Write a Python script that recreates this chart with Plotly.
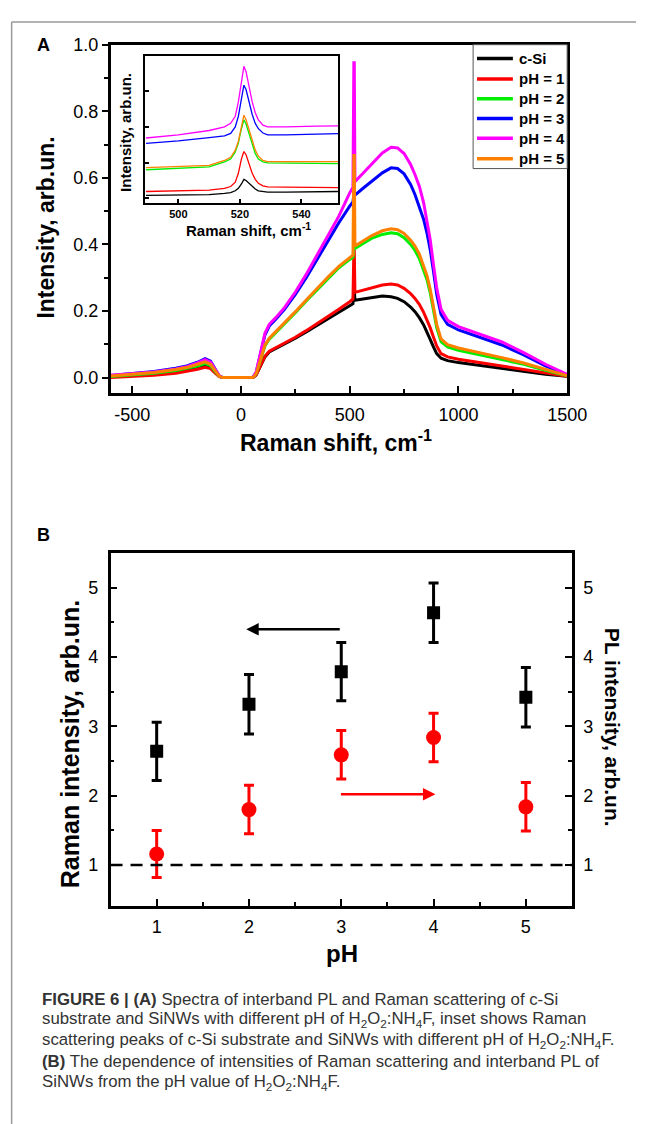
import plotly.graph_objects as go

W, H = 656, 1124
def X(px): return px / W
def Y(py): return 1 - py / H

FONT = "Liberation Sans, Arial, Helvetica, sans-serif"

# ---------------- Panel A: main spectra ----------------
shift = [-600, -500, -400, -300, -250, -200, -165, -140, -120, -100, -85,
         0, 55, 70, 90, 110, 130, 160,
         200, 250, 300, 350, 400, 450, 500,
         515, 519, 521, 524,
         560, 600, 650, 690, 720, 750, 780, 800, 820, 840, 855, 870, 885, 900, 920, 950,
         1000, 1100, 1200, 1300, 1400, 1500]

int_cSi = [0.003, 0.007, 0.012, 0.019, 0.024, 0.031, 0.036, 0.031, 0.017, 0.004, 0.0,
           0.0, 0.0, 0.008, 0.035, 0.062, 0.077, 0.087,
           0.100, 0.118, 0.137, 0.156, 0.176, 0.196, 0.216,
           0.222, 0.262, 0.262, 0.232,
           0.236, 0.241, 0.245, 0.243, 0.238, 0.228, 0.212, 0.198, 0.180, 0.158, 0.138, 0.115, 0.092, 0.072, 0.058, 0.051,
           0.045, 0.036, 0.027, 0.018, 0.010, 0.004]
int_pH1 = [0.000, 0.003, 0.007, 0.013, 0.018, 0.025, 0.031, 0.027, 0.014, 0.003, 0.0,
           0.0, 0.0, 0.008, 0.036, 0.064, 0.079, 0.089,
           0.103, 0.121, 0.141, 0.162, 0.183, 0.205, 0.228,
           0.236, 0.380, 0.380, 0.256,
           0.262, 0.270, 0.278, 0.281, 0.278, 0.268, 0.252, 0.238, 0.220, 0.196, 0.175, 0.150, 0.122, 0.095, 0.072, 0.062,
           0.055, 0.045, 0.035, 0.024, 0.013, 0.004]
int_pH2 = [0.003, 0.007, 0.013, 0.021, 0.027, 0.035, 0.042, 0.036, 0.019, 0.004, 0.0,
           0.0, 0.0, 0.012, 0.055, 0.095, 0.115, 0.135,
           0.160, 0.195, 0.230, 0.264, 0.298, 0.330, 0.355,
           0.362, 0.390, 0.390, 0.388,
           0.402, 0.418, 0.430, 0.435, 0.432, 0.420, 0.400, 0.382, 0.358, 0.325, 0.295, 0.255, 0.205, 0.150, 0.108, 0.092,
           0.082, 0.068, 0.055, 0.040, 0.022, 0.005]
int_pH3 = [0.006, 0.011, 0.018, 0.028, 0.035, 0.046, 0.057, 0.049, 0.026, 0.005, 0.0,
           0.0, 0.0, 0.016, 0.075, 0.128, 0.155, 0.175,
           0.205, 0.250, 0.300, 0.355, 0.410, 0.465, 0.515,
           0.528, 0.550, 0.550, 0.548,
           0.568, 0.590, 0.615, 0.630, 0.628, 0.612, 0.580, 0.550, 0.515, 0.475, 0.435, 0.385, 0.320, 0.250, 0.190, 0.160,
           0.143, 0.120, 0.098, 0.068, 0.035, 0.008]
int_pH4 = [0.007, 0.011, 0.017, 0.026, 0.033, 0.044, 0.054, 0.046, 0.024, 0.005, 0.0,
           0.0, 0.0, 0.017, 0.080, 0.133, 0.160, 0.180,
           0.210, 0.257, 0.310, 0.367, 0.425, 0.485, 0.555,
           0.572, 0.946, 0.946, 0.588,
           0.612, 0.640, 0.675, 0.692, 0.690, 0.673, 0.640, 0.610, 0.575, 0.525, 0.475, 0.415, 0.340, 0.270, 0.205, 0.172,
           0.153, 0.130, 0.107, 0.075, 0.040, 0.010]
int_pH5 = [0.005, 0.009, 0.015, 0.024, 0.030, 0.040, 0.047, 0.040, 0.021, 0.004, 0.0,
           0.0, 0.0, 0.012, 0.057, 0.098, 0.118, 0.138,
           0.163, 0.198, 0.233, 0.268, 0.302, 0.334, 0.360,
           0.368, 0.667, 0.667, 0.395,
           0.410, 0.426, 0.441, 0.447, 0.444, 0.433, 0.413, 0.395, 0.371, 0.338, 0.307, 0.266, 0.215, 0.160, 0.116, 0.099,
           0.089, 0.075, 0.060, 0.044, 0.025, 0.006]

series_names = ["c-Si", "pH = 1", "pH = 2", "pH = 3", "pH = 4", "pH = 5"]
series_colors = ["#000000", "#ff0000", "#00ee00", "#0000ff", "#ff00ff", "#ff8000"]
main_values = [int_cSi, int_pH1, int_pH2, int_pH3, int_pH4, int_pH5]

x_ticks_A = [-500, 0, 500, 1000, 1500]
x_ticklabels_A = ["-500", "0", "500", "1000", "1500"]
y_ticks_A = [0, 0.2, 0.4, 0.6, 0.8, 1.0]
y_ticklabels_A = ["0.0", "0.2", "0.4", "0.6", "0.8", "1.0"]

# ---------------- Panel A inset ----------------
inset_shift = [489.5, 500, 510, 515, 517, 518.5, 519.5, 520.5, 521.3, 522, 523, 524, 525, 526,
               527.5, 529, 535, 540, 545, 552]
ins_cSi = [0.558, 0.559, 0.560, 0.564, 0.566, 0.571, 0.578, 0.590, 0.603, 0.600, 0.592, 0.583, 0.576, 0.571,
           0.568, 0.567, 0.567, 0.567, 0.568, 0.569]
ins_pH1 = [0.569, 0.571, 0.573, 0.578, 0.583, 0.595, 0.620, 0.660, 0.681, 0.672, 0.645, 0.620, 0.603, 0.592,
           0.585, 0.582, 0.581, 0.581, 0.580, 0.580]
ins_pH2 = [0.630, 0.634, 0.638, 0.652, 0.660, 0.680, 0.705, 0.745, 0.770, 0.758, 0.730, 0.700, 0.675, 0.660,
           0.652, 0.649, 0.648, 0.648, 0.647, 0.647]
ins_pH3 = [0.704, 0.711, 0.720, 0.725, 0.732, 0.750, 0.780, 0.830, 0.867, 0.855, 0.820, 0.785, 0.760, 0.745,
           0.733, 0.728, 0.728, 0.728, 0.730, 0.731]
ins_pH4 = [0.719, 0.728, 0.740, 0.750, 0.760, 0.780, 0.820, 0.880, 0.920, 0.905, 0.860, 0.820, 0.790, 0.770,
           0.755, 0.750, 0.750, 0.750, 0.752, 0.753]
ins_pH5 = [0.636, 0.639, 0.642, 0.656, 0.665, 0.685, 0.710, 0.750, 0.783, 0.770, 0.740, 0.710, 0.685, 0.668,
           0.656, 0.653, 0.653, 0.653, 0.653, 0.653]
inset_values = [ins_cSi, ins_pH1, ins_pH2, ins_pH3, ins_pH4, ins_pH5]

# ---------------- Panel B ----------------
pH = [1, 2, 3, 4, 5]
raman_int = [2.64, 3.32, 3.79, 4.64, 3.42]
raman_err = [0.42, 0.43, 0.42, 0.43, 0.43]
pl_int = [1.16, 1.80, 2.59, 2.84, 1.84]
pl_err = [0.34, 0.35, 0.35, 0.35, 0.35]

fig = go.Figure()

for name, col, vals in zip(series_names, series_colors, main_values):
    fig.add_trace(go.Scatter(x=shift, y=vals, mode="lines", name=name, showlegend=False,
                             line=dict(color=col, width=3), xaxis="x", yaxis="y"))

for col, vals in zip(series_colors, inset_values):
    fig.add_trace(go.Scatter(x=inset_shift, y=vals, mode="lines", showlegend=False,
                             line=dict(color=col, width=1.3), xaxis="x2", yaxis="y2"))

fig.add_trace(go.Scatter(x=pH, y=raman_int, mode="markers", showlegend=False,
                         marker=dict(symbol="square", size=13, color="black"),
                         error_y=dict(type="data", array=raman_err, color="black", thickness=3, width=5),
                         xaxis="x3", yaxis="y3"))
fig.add_trace(go.Scatter(x=pH, y=pl_int, mode="markers", showlegend=False,
                         marker=dict(symbol="circle", size=15, color="#ff0000"),
                         error_y=dict(type="data", array=pl_err, color="#ff0000", thickness=3, width=5),
                         xaxis="x3", yaxis="y4"))

axis_common = dict(showline=True, linecolor="black", showgrid=False, zeroline=False,
                   tickcolor="black", tickfont=dict(family=FONT, size=18, color="black"))

fig.update_layout(
    width=W, height=H, margin=dict(l=0, r=0, t=0, b=0), autosize=False,
    paper_bgcolor="white", plot_bgcolor="white",
    font=dict(family=FONT, color="black"),
    showlegend=False,
    xaxis=dict(**axis_common, domain=[X(114), X(585)], anchor="y", range=[-600, 1500],
               linewidth=2.5, mirror=True, ticks="inside", ticklen=7, tickwidth=2,
               tickvals=x_ticks_A, ticktext=x_ticklabels_A, ticklabelstandoff=4,
               minor=dict(ticks="inside", ticklen=4, tickwidth=2, tickcolor="black",
                          tickvals=[-250, 250, 750, 1250])),
    yaxis=dict(**axis_common, domain=[Y(386), Y(35)], anchor="x", range=[-0.045, 1.0],
               linewidth=2.5, mirror=True, ticks="outside", ticklen=6, tickwidth=2,
               tickvals=y_ticks_A, ticktext=y_ticklabels_A,
               minor=dict(ticks="outside", ticklen=4, tickwidth=2, tickcolor="black",
                          tickvals=[0.1, 0.3, 0.5, 0.7, 0.9])),
    xaxis2=dict(showline=True, linecolor="black", showgrid=False, zeroline=False,
                domain=[X(150), X(349)], anchor="y2", range=[489.3, 552],
                linewidth=2, mirror=True, ticks="inside", ticklen=4, tickwidth=1.5, tickcolor="black",
                tickvals=[500, 520, 540],
                tickfont=dict(family=FONT, size=11, color="black", weight="bold")),
    yaxis2=dict(showline=True, linecolor="black", showgrid=False, zeroline=False,
                domain=[Y(195), Y(46)], anchor="x2", range=[0.536, 0.95],
                linewidth=2, mirror=True, ticks="inside", ticklen=4, tickwidth=1.5, tickcolor="black",
                tickvals=[0.55, 0.65, 0.75, 0.85], showticklabels=False),
    xaxis3=dict(**axis_common, domain=[X(114), X(590)], anchor="y3", range=[0.5, 5.5],
                linewidth=2.5, mirror=True, ticks="inside", ticklen=7, tickwidth=2,
                tickvals=[1, 2, 3, 4, 5], ticklabelstandoff=3,
                minor=dict(ticks="inside", ticklen=4, tickwidth=2, tickcolor="black",
                           tickvals=[1.5, 2.5, 3.5, 4.5])),
    yaxis3=dict(**axis_common, domain=[Y(904), Y(548)], anchor="x3", range=[0.41, 5.5],
                linewidth=2.5, mirror=True, ticks="inside", ticklen=7, tickwidth=2,
                tickvals=[1, 2, 3, 4, 5], ticklabelstandoff=6,
                minor=dict(ticks="inside", ticklen=4, tickwidth=2, tickcolor="black",
                           tickvals=[1.5, 2.5, 3.5, 4.5])),
    yaxis4=dict(**axis_common, overlaying="y3", side="right", anchor="x3", range=[0.41, 5.5],
                linewidth=2.5, ticks="inside", ticklen=7, tickwidth=2,
                tickvals=[1, 2, 3, 4, 5], ticklabelstandoff=5,
                minor=dict(ticks="inside", ticklen=4, tickwidth=2, tickcolor="black",
                           tickvals=[1.5, 2.5, 3.5, 4.5])),
)

# Frame lines of the page
fig.add_shape(type="line", xref="paper", yref="paper", x0=X(12), x1=1, y0=Y(12), y1=Y(12),
              line=dict(color="#9a9a9a", width=1.5))
fig.add_shape(type="line", xref="paper", yref="paper", x0=X(12), x1=X(12), y0=Y(12), y1=0,
              line=dict(color="#9a9a9a", width=1.5))

# Legend box (panel A, top-right corner of the axes)
fig.add_shape(type="rect", xref="paper", yref="paper", x0=X(488), x1=X(585), y0=Y(160), y1=Y(35),
              line=dict(color="#555555", width=1), fillcolor="white", layer="above")
legend_y = [49, 69.5, 89.5, 109.5, 129.5, 150]
for name, col, ly in zip(series_names, series_colors, legend_y):
    fig.add_shape(type="line", xref="paper", yref="paper", x0=X(492), x1=X(529), y0=Y(ly), y1=Y(ly),
                  line=dict(color=col, width=3.5), layer="above")
    fig.add_annotation(text=name, x=X(533), y=Y(ly), xref="paper", yref="paper", showarrow=False,
                       xanchor="left", yanchor="middle",
                       font=dict(family=FONT, size=15, color="black", weight="bold"))

# Dashed reference line at 1
fig.add_shape(type="line", xref="x3 domain", yref="y3", x0=0, x1=1, y0=1, y1=1,
              line=dict(color="black", width=2.5, dash="12px,8px"))

# Arrows
fig.add_annotation(x=1.97, y=4.4, ax=3.0, ay=4.4, xref="x3", yref="y3", axref="x3", ayref="y3",
                   text="", showarrow=True, arrowhead=2, arrowsize=1, arrowwidth=2.5,
                   arrowcolor="black", standoff=0)
fig.add_annotation(x=4.02, y=2.02, ax=2.98, ay=2.02, xref="x3", yref="y4", axref="x3", ayref="y4",
                   text="", showarrow=True, arrowhead=2, arrowsize=1, arrowwidth=2.5,
                   arrowcolor="#ff0000", standoff=0)

def txt(text, x, y, size, bold=True, angle=0, xanchor="center", color="black"):
    fig.add_annotation(text=text, x=X(x), y=Y(y), xref="paper", yref="paper", showarrow=False,
                       xanchor=xanchor, yanchor="middle", textangle=angle,
                       font=dict(family=FONT, size=size, color=color,
                                 weight="bold" if bold else "normal"))

txt("A", 45, 35, 18)
txt("B", 45, 530, 18)
txt("Intensity, arb.un.", 47, 220, 23, angle=-90)
txt("Raman shift, cm<sup>-1</sup>", 347, 435, 23)
txt("Raman shift, cm<sup>-1</sup>", 256, 221, 15)
txt("Intensity, arb.un.", 130, 124, 15, angle=-90)
txt("Raman intensity, arb.un.", 73, 741, 25, angle=-90)
txt("PL intensity, arb.un.", 632, 724, 21, angle=90)
txt("pH", 353, 952, 24)

cap_color = "#333333"
cap_lines = [
    "<b>FIGURE 6 | (A)</b> Spectra of interband PL and Raman scattering of c-Si",
    "substrate and SiNWs with different pH of H<sub>2</sub>O<sub>2</sub>:NH<sub>4</sub>F, inset shows Raman",
    "scattering peaks of c-Si substrate and SiNWs with different pH of H<sub>2</sub>O<sub>2</sub>:NH<sub>4</sub>F.",
    "<b>(B)</b> The dependence of intensities of Raman scattering and interband PL of",
    "SiNWs from the pH value of H<sub>2</sub>O<sub>2</sub>:NH<sub>4</sub>F.",
]
cap_y = [998, 1019, 1040, 1061, 1082]
for line, yy in zip(cap_lines, cap_y):
    txt(line, 41, yy, 16.8, bold=False, xanchor="left", color=cap_color)

fig.write_html(
    "out.html",
    config={"displayModeBar": False, "responsive": False},
    post_script=("document.documentElement.style.overflow='hidden';"
                 "document.body.style.overflow='hidden';"
                 "document.body.style.margin='0px';"),
)
